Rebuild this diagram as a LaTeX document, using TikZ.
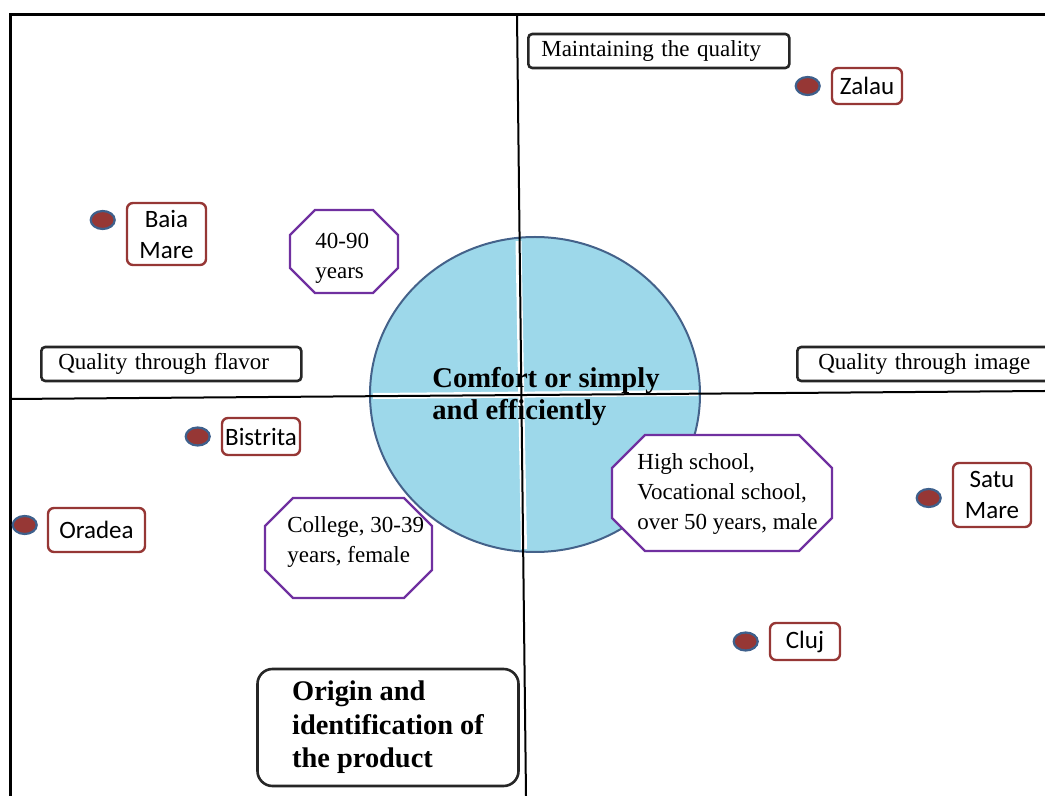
\documentclass[tikz,border=0pt]{standalone}
\usepackage{fontspec}
\setmainfont{Liberation Serif}
\newfontfamily\cityfont{Carlito}
\usetikzlibrary{positioning,shapes.geometric}

\definecolor{corefill}{RGB}{157,216,234}
\definecolor{coreline}{RGB}{68,98,138}
\definecolor{cityred}{RGB}{150,55,53}
\definecolor{dotblue}{RGB}{62,96,140}
\definecolor{octviolet}{RGB}{112,48,160}

% octagon outline: x1, x2, y1, y2, cut
\newcommand{\octagon}[5]{%
  \draw[octline] ({#1+#5},#3) -- ({#2-#5},#3) -- (#2,{#3+#5}) -- (#2,{#4-#5})
    -- ({#2-#5},#4) -- ({#1+#5},#4) -- (#1,{#4-#5}) -- (#1,{#3+#5}) -- cycle;}

\begin{document}
\begin{tikzpicture}[x=0.5pt,y=-0.5pt,font=\fontsize{11.5}{14.5}\selectfont]
  %----- styles
  \tikzset{
    quality/.style ={draw=black!85,line width=1.3pt,rounded corners=2pt,anchor=west,minimum height=17pt,inner xsep=8pt,inner ysep=2pt,align=left},
    city/.style    ={draw=cityred,line width=1.2pt,rounded corners=3pt,align=center,inner sep=1pt,font=\cityfont\fontsize{12.5}{15.5}\selectfont},
    spot/.style    ={ellipse,draw=dotblue,fill=cityred,line width=1.1pt,minimum width=12pt,minimum height=9pt,inner sep=0pt},
    octline/.style ={draw=octviolet,fill=white,line width=1.1pt},
    octtext/.style ={anchor=west,align=left,inner sep=0pt,font=\fontsize{11.5}{15}\selectfont},
    axis/.style    ={line width=1pt},
    gap/.style     ={white,line width=3pt},
    frame/.style   ={line width=1.5pt}
  }
  \useasboundingbox (0,0) rectangle (1045,796);

  %----- frame and axes
  \coordinate (corner) at (10,15);
  \coordinate (topend) at (1045,15);
  \coordinate (leftend) at (10,796);
  \coordinate (vtop) at (517,15);
  \coordinate (vbot) at (526,796);
  \coordinate (hleft) at (10,399);
  \coordinate (hright) at (1045,391);

  \draw[frame] (leftend) -- (corner) -- (topend);

  % centre disc, split by the axes
  \node[ellipse,draw=coreline,fill=corefill,line width=1pt,minimum width=165pt,minimum height=157.5pt] (core) at (535,394.5) {};
  \draw[gap] (518.5,241) -- (524,549);
  \draw[gap] (373,396) -- (698,393);

  \draw[axis] (vtop) -- (vbot);
  \draw[axis] (hleft) -- (hright);

  \node[font=\bfseries\fontsize{14.3}{16}\selectfont,align=left,anchor=west,inner sep=0pt] (comfort) at (432,397) {Comfort or simply\\and efficiently};

  %----- quality labels
  \node[quality,inner xsep=6.5pt,text width=117.5pt] (maint) at (527,51) {Maintaining the quality};
  \node[quality,inner xsep=8.5pt,text width=113pt] (flavor) at (40,364) {Quality through flavor};
  \node[quality,inner xsep=10.5pt,text width=110pt] (image) at (796,364) {Quality through image};

  %----- cities
  \node[city,minimum width=35pt,minimum height=18pt] (zalau) at (867,86) {Zalau};
  \node[city,minimum width=39.5pt,minimum height=31pt] (baia) at (166.5,234) {Baia\\Mare};
  \node[city,minimum width=39pt,minimum height=18.5pt] (bistrita) at (261,436.5) {Bistrita};
  \node[city,minimum width=48.5pt,minimum height=22pt] (oradea) at (96.5,530) {Oradea};
  \node[city,minimum width=39pt,minimum height=32pt] (satu) at (992,495) {Satu\\Mare};
  \node[city,minimum width=35pt,minimum height=18.5pt] (cluj) at (805,641.5) {Cluj};

  \node[spot,left=5pt of zalau] (zalauspot) {};
  \node[spot,left=5pt of baia,yshift=7pt] (baiaspot) {};
  \node[spot,left=5pt of bistrita] (bistritaspot) {};
  \node[spot,left=4.5pt of oradea,yshift=2.5pt] (oradeaspot) {};
  \node[spot,left=5pt of satu,yshift=-1.5pt] (satuspot) {};
  \node[spot,left=5pt of cluj] (clujspot) {};

  %----- consumer groups
  \octagon{290}{398}{210}{293}{25}
  \node[octtext] (elder) at (315,258) {40-90\\years};
  \octagon{265}{432}{498}{598}{28}
  \node[octtext] (college) at (287,542) {College, 30-39\\years, female};
  \octagon{612}{832}{435}{551}{33}
  \node[octtext] (school) at (637,494) {High school,\\Vocational school,\\over 50 years, male};

  %----- origin
  \node[draw=black!85,line width=1.3pt,rounded corners=7.5pt,minimum width=130.5pt,minimum height=58.5pt,align=left,font=\bfseries\fontsize{14.2}{16.8}\selectfont] (origin) at (388,727.5) {Origin and\\identification of\\the product};
\end{tikzpicture}
\end{document}
